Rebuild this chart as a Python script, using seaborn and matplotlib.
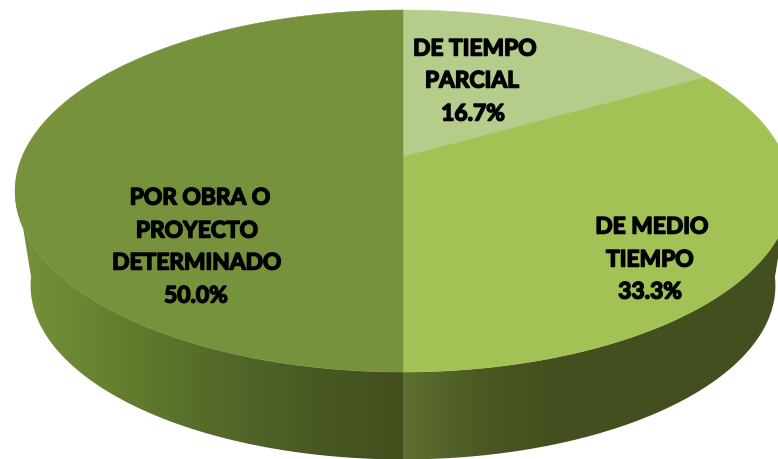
import numpy as np
import matplotlib
matplotlib.use("Agg")
import matplotlib.pyplot as plt
import matplotlib.patheffects as pe
import seaborn as sns

# Datos del grafico
categorias = ["DE TIEMPO PARCIAL", "DE MEDIO TIEMPO", "POR OBRA O PROYECTO DETERMINADO"]
valores = [16.7, 33.3, 50.0]
colores = ["#B6CC8A", "#A2C255", "#76923C"]

# Etiquetas, linea por linea
lineas = [["DE TIEMPO", "PARCIAL", "16.7%"],
          ["DE MEDIO", "TIEMPO", "33.3%"],
          ["POR OBRA O", "PROYECTO", "DETERMINADO", "50.0%"]]
lineas_x = [[475, 472, 473], [652, 650, 650], [200, 197, 197, 196]]
lineas_y = [[49, 81, 114], [227, 260, 292], [198, 231, 263, 296]]

# Degradado de la pared lateral
pared_izq = sns.blend_palette(["#76923C", "#65802F", "#566B2A", "#4A5A24", "#434F1E"], 256)
pared_der = sns.blend_palette(["#5F7030", "#4B5A24", "#434F1E", "#434F1E", "#434F1E", "#434F1E"], 256)

sns.set_theme(style="white")
plt.rcParams["font.family"] = ["Lato", "DejaVu Sans"]


# Proyeccion en perspectiva del circulo unidad (angulo desde arriba, horario)
def proyectar(theta, escala=1.0, centro_y=157):
    x, y = np.sin(theta), np.cos(theta)
    d = 1 + 0.188 * y
    return 403 + escala * 381 * x / d, centro_y - escala * 174.6 * y / d


fig = plt.figure(figsize=(7.78, 4.59), dpi=100)
ax = fig.add_axes([0, 0, 1, 1])
ax.axis("off")

# Pared lateral: degradado horizontal recortado al contorno de cada mitad
tramos = [(np.pi, np.radians(262), pared_izq, (15, 403)),
          (np.radians(98), np.pi, pared_der, (403, 778))]
for a0, a1, paleta, (x_ini, x_fin) in tramos:
    t = np.linspace(a0, a1, 200)
    xs, ys = proyectar(t)
    xi, yi = proyectar(t, 0.96, 253)
    poli = ax.fill(np.r_[xs, xi[::-1]], np.r_[ys, yi[::-1]], facecolor="none", edgecolor="none")[0]
    im = ax.imshow(np.array(paleta)[None, :, :], extent=(x_ini, x_fin, 459, 0), aspect="auto",
                   interpolation="bilinear")
    im.set_clip_path(poli)

ax.set_xlim(0, 778)
ax.set_ylim(459, 0)

# Cara superior, a partir de los porcentajes
acum = np.cumsum([0] + valores) / sum(valores) * 2 * np.pi
for i in range(len(valores)):
    t = np.linspace(acum[i], acum[i + 1], 200)
    xs, ys = proyectar(t)
    ax.fill(np.r_[403, xs], np.r_[157, ys], color=colores[i], lw=0.4)

# Etiquetas
for txt, px, py in zip(lineas, lineas_x, lineas_y):
    for s, x, y in zip(txt, px, py):
        ax.text(x, y, s, ha="center", va="center", fontsize=16.4, fontweight="bold", color="black",
                path_effects=[pe.withStroke(linewidth=1.1, foreground="black")])

fig.savefig("out.png", dpi=100)
